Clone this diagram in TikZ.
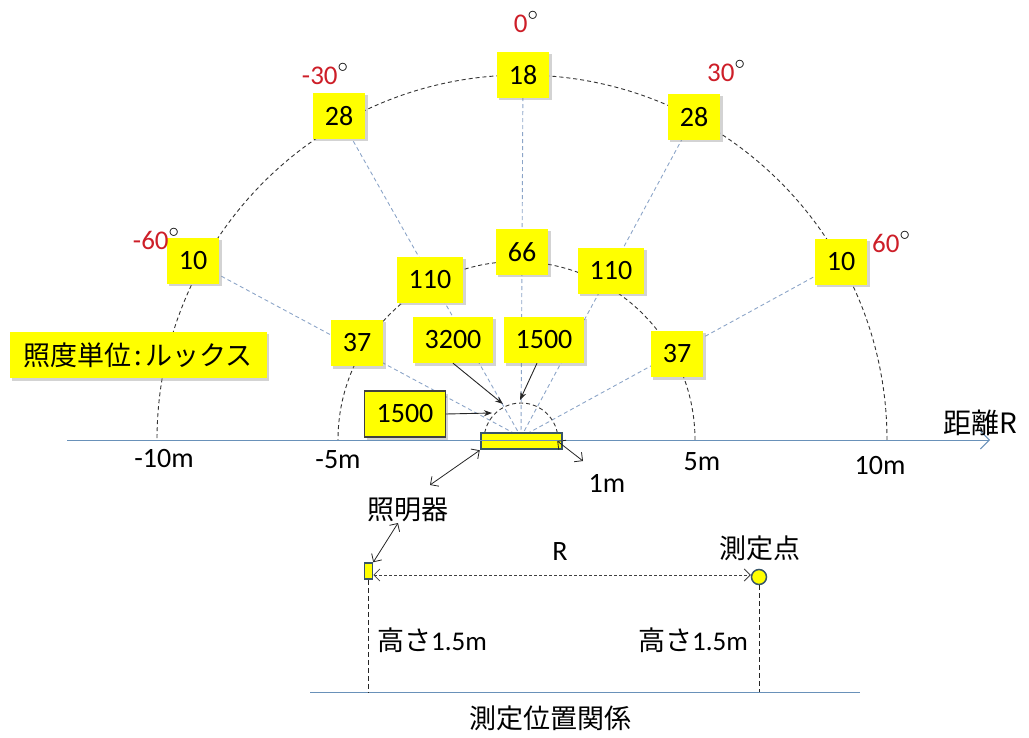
\documentclass[tikz,border=0pt]{standalone}
\usepackage{fontspec}
\setmainfont{Carlito}
\newfontfamily\jpfont{Noto Sans CJK JP}
\usetikzlibrary{shadows,arrows.meta,backgrounds}

\definecolor{luxyellow}{RGB}{255,255,0}
\definecolor{angred}{RGB}{205,30,40}
\definecolor{raygray}{RGB}{140,165,200}
\definecolor{axisblue}{RGB}{105,145,185}
\definecolor{lampedge}{RGB}{55,85,105}

\newcommand{\degmark}{\textcolor{black}{\raisebox{0.42em}{\fontsize{20}{20}\selectfont$\circ$}}}

\tikzset{
    luxbox/.style={fill=luxyellow, inner xsep=12pt, inner ysep=0pt, minimum height=46pt,
        font=\fontsize{28}{30}\selectfont,
        drop shadow={shadow xshift=2.5pt, shadow yshift=-2.5pt, opacity=0.35}},
    anglbl/.style={font=\fontsize{27}{29}\selectfont, text=angred, inner sep=0pt},
    axlbl/.style={font=\fontsize{28}{30}\selectfont, inner sep=0pt},
    jplbl/.style={font=\jpfont\fontsize{27}{29}\selectfont, inner sep=0pt},
    arcline/.style={black!80, dashed, line width=0.9pt, dash pattern=on 4pt off 3pt},
    rayline/.style={raygray, line width=0.9pt, dash pattern=on 4pt off 3pt},
    ptr/.style={-{Stealth[length=8pt,width=6pt]}, line width=0.9pt, black!85},
    dblptr/.style={{Straight Barb[length=6pt]}-{Straight Barb[length=6pt]}, line width=0.8pt, black!85},
}

\begin{document}
\begin{tikzpicture}[x=1pt,y=-1pt]
        \useasboundingbox (0,0) rectangle (1029,738);
        \coordinate (O) at (521,437);
        \draw[arcline] (887,440) arc[start angle=0, end angle=180, radius=365pt];
        \draw[arcline] (695,440) arc[start angle=0, end angle=180, radius=178.5pt];
        \draw[arcline] (558,440) arc[start angle=0, end angle=180, radius=37pt];

        \node[luxbox] (L10_0) at (523,75) {18};
        \node[luxbox] (L10_M30) at (339,116) {28};
        \node[luxbox] (L10_P30) at (694,117) {28};
        \node[luxbox] (L10_M60) at (193,261) {10};
        \node[luxbox] (L10_P60) at (841,262) {10};
        \node[luxbox] (L5_0) at (522,252) {66};
        \node[luxbox] (L5_M30) at (430,280) {110};
        \node[luxbox] (L5_P30) at (611,271) {110};
        \node[luxbox] (L5_M60) at (357,343) {37};
        \node[luxbox] (L5_P60) at (677,354) {37};
        \node[luxbox] (L1_M30) at (453,340) {3200};
        \node[luxbox] (L1_0) at (544,340) {1500};
        \node[luxbox, draw=black!75, line width=1.5pt] (L1_M90) at (405,414) {1500};
        \node[luxbox, inner xsep=14pt, minimum width=257pt, font=\jpfont\fontsize{27}{30}\selectfont] (UNIT) at (138,355) {照度単位\hspace{3pt}:\hspace{3pt}ルックス};

        \begin{pgfonlayer}{background}
        \draw[rayline] (O) -- (L10_0.center);
        \draw[rayline] (O) -- (L10_M30.center);
        \draw[rayline] (O) -- (L10_P30.center);
        \draw[rayline] (O) -- (L10_M60.center);
        \draw[rayline] (O) -- (L10_P60.center);
        \end{pgfonlayer}

        \node[anglbl] (A_0) at (526,22) {0\degmark};
        \node[anglbl] (A_M30) at (325,74) {-30\degmark};
        \node[anglbl] (A_P30) at (726,71) {30\degmark};
        \node[anglbl] (A_M60) at (156,239) {-60\degmark};
        \node[anglbl] (A_P60) at (891,242) {60\degmark};

        \node[fill=luxyellow, draw=lampedge, line width=2.5pt, minimum width=81pt, minimum height=16pt, inner sep=0pt] (LAMP) at (521.5,441) {};
        \draw[axisblue, line width=0.9pt, -{Straight Barb[length=9pt]}] (67,440) -- (990,440);

        \node[axlbl] (T_M10) at (164,459) {-10m};
        \node[axlbl] (T_M5) at (338,460) {-5m};
        \node[axlbl] (T_P5) at (702,462) {5m};
        \node[axlbl] (T_P10) at (880,466) {10m};
        \node[axlbl] (T_1) at (607,483) {1m};
        \node[jplbl, font=\jpfont\fontsize{28}{30}\selectfont] (DIST) at (980,423) {距離R};

        \coordinate (H_M30) at (503,404);
        \coordinate (H_0) at (520,400);
        \coordinate (H_M90) at (492,413);
        \draw[ptr] (L1_M30.south) -- (H_M30);
        \draw[ptr] ([xshift=-7pt]L1_0.south) -- (H_0);
        \draw[ptr] (L1_M90.east) -- (H_M90);

        \node[jplbl] (LAMP_LBL) at (408,510) {照明器};
        \coordinate (W_LAMP) at (430,485);
        \coordinate (W_1M) at (583,461);
        \draw[dblptr] (LAMP.south west) -- (W_LAMP);
        \draw[dblptr] ([xshift=-6pt]LAMP.east) -- (W_1M);

        \node[fill=luxyellow, draw=lampedge, line width=1.5pt, minimum width=8pt, minimum height=16pt, inner sep=0pt] (LAMP_B) at (368.5,571) {};
        \node[circle, fill=luxyellow, draw=lampedge, line width=1.5pt, minimum size=15pt, inner sep=0pt] (PT) at (759,577) {};
        \coordinate (W_LAMP_B) at (398,523);
        \draw[dblptr] (LAMP_B.north east) -- (W_LAMP_B);
        \draw[dblptr, black!75, dash pattern=on 3pt off 2pt] ([yshift=-4pt]LAMP_B.east) -- ([yshift=2pt]PT.west);
        \node[axlbl] (R_LBL) at (560,552) {R};
        \node[jplbl] (PT_LBL) at (760,548) {測定点};

        \coordinate (G_L) at (310,692);
        \coordinate (G_R) at (860,692);
        \draw[axisblue, line width=0.9pt] (G_L) -- (G_R);
        \draw[black!85, line width=0.8pt, dash pattern=on 5pt off 3pt] (LAMP_B.south) -- (LAMP_B.south |- G_L);
        \draw[black!85, line width=0.8pt, dash pattern=on 5pt off 3pt] (PT.south) -- (PT.south |- G_L);
        \node[jplbl, font=\fontsize{27}{29}\selectfont] (H_LAMP) at (432,640) {{\jpfont 高さ}1.5m};
        \node[jplbl, font=\fontsize{27}{29}\selectfont] (H_PT) at (693,640) {{\jpfont 高さ}1.5m};
        \node[jplbl] (TITLE) at (550,718) {測定位置関係};
\end{tikzpicture}
\end{document}
